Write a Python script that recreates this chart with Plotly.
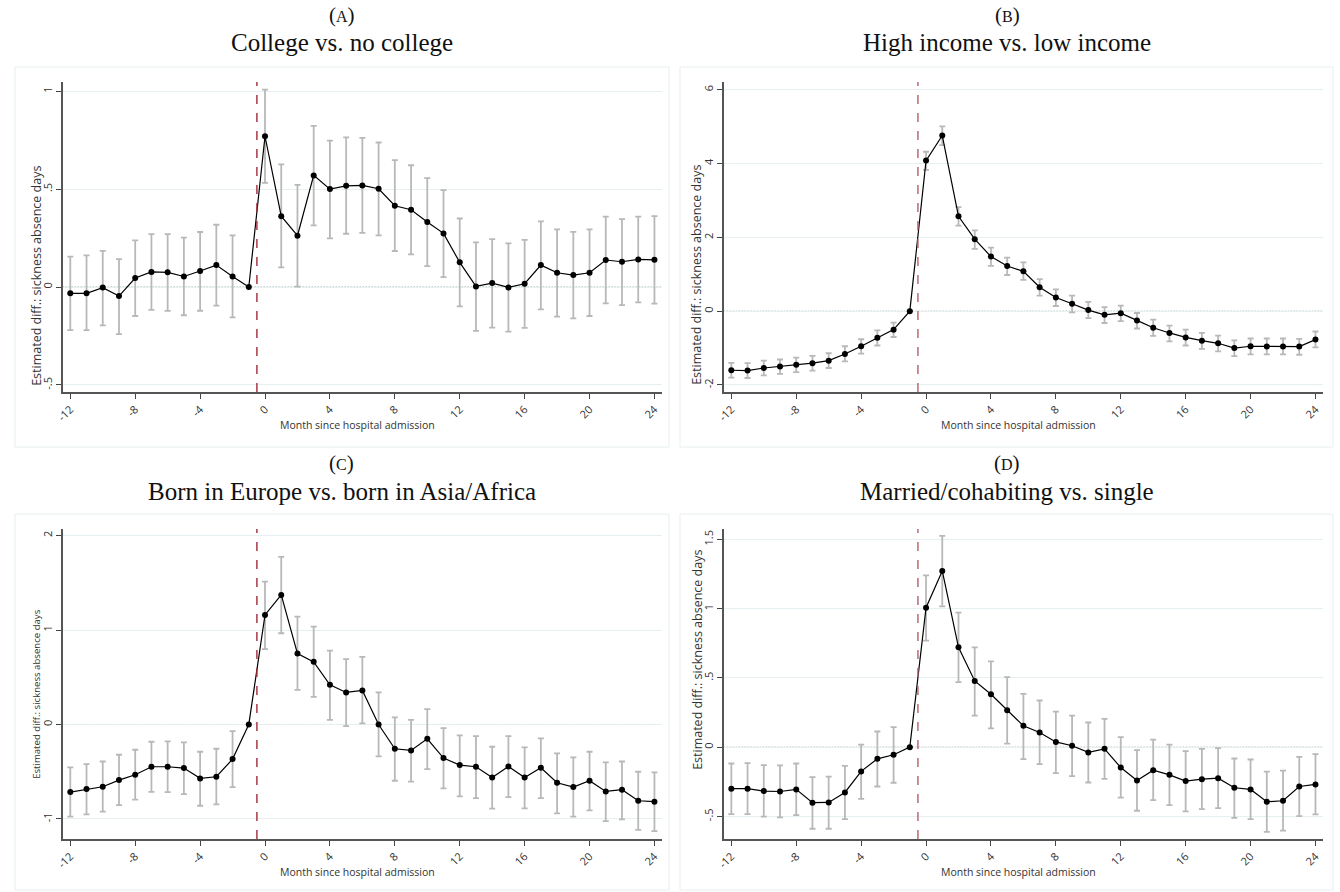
import plotly.graph_objects as go

# Event time (months relative to hospital admission)
months = list(range(-12, 25))

# (A) College vs. no college
college_est = [-0.032, -0.032, -0.003, -0.046, 0.046, 0.077, 0.075, 0.054, 0.082, 0.112, 0.054, 0.0,
               0.770, 0.362, 0.262, 0.570, 0.500, 0.517, 0.519, 0.502, 0.415, 0.395, 0.332, 0.274,
               0.126, 0.003, 0.020, -0.002, 0.017, 0.112, 0.073, 0.061, 0.073, 0.138, 0.129, 0.141, 0.139]
college_lo = [-0.220, -0.220, -0.196, -0.240, -0.148, -0.117, -0.122, -0.144, -0.121, -0.095, -0.155, None,
              0.532, 0.100, 0.002, 0.315, 0.248, 0.272, 0.277, 0.264, 0.184, 0.167, 0.107, 0.051,
              -0.099, -0.224, -0.207, -0.228, -0.209, -0.114, -0.151, -0.160, -0.148, -0.083, -0.092, -0.078, -0.085]
college_hi = [0.155, 0.162, 0.185, 0.143, 0.238, 0.270, 0.270, 0.252, 0.281, 0.318, 0.264, None,
              1.008, 0.626, 0.522, 0.823, 0.748, 0.764, 0.762, 0.738, 0.648, 0.622, 0.556, 0.495,
              0.350, 0.228, 0.245, 0.223, 0.241, 0.335, 0.294, 0.282, 0.294, 0.360, 0.347, 0.360, 0.362]

# (B) High income vs. low income
income_est = [-1.60, -1.61, -1.54, -1.50, -1.45, -1.41, -1.34, -1.16, -0.95, -0.72, -0.50, 0.0,
              4.08, 4.76, 2.57, 1.95, 1.48, 1.225, 1.08, 0.65, 0.37, 0.20, 0.03, -0.10,
              -0.054, -0.25, -0.45, -0.59, -0.71, -0.80, -0.87, -1.00, -0.95, -0.955, -0.955, -0.96, -0.77]
income_lo = [-1.80, -1.81, -1.74, -1.70, -1.65, -1.61, -1.54, -1.36, -1.15, -0.93, -0.70, None,
             3.83, 4.50, 2.32, 1.69, 1.23, 0.98, 0.85, 0.42, 0.14, -0.03, -0.19, -0.32,
             -0.27, -0.47, -0.67, -0.82, -0.93, -1.02, -1.09, -1.22, -1.17, -1.17, -1.17, -1.18, -0.98]
income_hi = [-1.40, -1.41, -1.34, -1.31, -1.26, -1.21, -1.14, -0.95, -0.76, -0.52, -0.31, None,
             4.32, 5.01, 2.82, 2.19, 1.72, 1.45, 1.32, 0.87, 0.59, 0.42, 0.25, 0.11,
             0.15, -0.05, -0.23, -0.39, -0.50, -0.59, -0.66, -0.79, -0.74, -0.74, -0.74, -0.75, -0.55]

# (C) Born in Europe vs. born in Asia/Africa
born_est = [-0.716, -0.684, -0.660, -0.589, -0.533, -0.448, -0.448, -0.462, -0.571, -0.554, -0.367, 0.0,
            1.160, 1.372, 0.751, 0.663, 0.420, 0.339, 0.360, 0.000, -0.257, -0.275, -0.152, -0.356,
            -0.430, -0.448, -0.561, -0.444, -0.561, -0.459, -0.617, -0.663, -0.596, -0.709, -0.691, -0.808, -0.818]
born_lo = [-0.977, -0.952, -0.924, -0.854, -0.797, -0.713, -0.716, -0.737, -0.861, -0.847, -0.663, None,
           0.797, 0.966, 0.367, 0.293, 0.049, -0.018, 0.011, -0.339, -0.596, -0.605, -0.473, -0.677,
           -0.762, -0.780, -0.892, -0.769, -0.889, -0.780, -0.942, -0.977, -0.910, -1.023, -1.005, -1.116, -1.129]
born_hi = [-0.455, -0.420, -0.392, -0.321, -0.268, -0.183, -0.180, -0.190, -0.289, -0.257, -0.071, None,
           1.513, 1.774, 1.143, 1.037, 0.783, 0.691, 0.716, 0.339, 0.074, 0.049, 0.162, -0.039,
           -0.116, -0.123, -0.236, -0.123, -0.243, -0.148, -0.307, -0.349, -0.289, -0.402, -0.392, -0.501, -0.508]

# (D) Married/cohabiting vs. single
married_est = [-0.300, -0.300, -0.317, -0.320, -0.305, -0.401, -0.399, -0.327, -0.175, -0.084, -0.055, 0.0,
               1.007, 1.272, 0.721, 0.478, 0.382, 0.267, 0.154, 0.106, 0.038, 0.010, -0.038, -0.012,
               -0.147, -0.240, -0.166, -0.200, -0.245, -0.231, -0.224, -0.293, -0.305, -0.394, -0.387, -0.284, -0.269]
married_lo = [-0.483, -0.483, -0.502, -0.507, -0.490, -0.589, -0.589, -0.519, -0.373, -0.284, -0.257, None,
              0.769, 1.017, 0.469, 0.228, 0.135, 0.026, -0.087, -0.123, -0.187, -0.209, -0.255, -0.229,
              -0.365, -0.459, -0.382, -0.418, -0.464, -0.447, -0.440, -0.510, -0.520, -0.611, -0.603, -0.498, -0.485]
married_hi = [-0.118, -0.115, -0.130, -0.132, -0.118, -0.216, -0.212, -0.135, 0.019, 0.113, 0.144, None,
              1.240, 1.526, 0.971, 0.721, 0.620, 0.505, 0.385, 0.337, 0.257, 0.228, 0.178, 0.204,
              0.072, -0.022, 0.055, 0.019, -0.029, -0.012, -0.007, -0.082, -0.089, -0.177, -0.170, -0.070, -0.050]

x_ticks = list(range(-12, 25, 4))

panels = [
    dict(label="A", title="College vs. no college", est=college_est, lo=college_lo, hi=college_hi,
         yticks=[-0.5, 0, 0.5, 1], yticktext=["-.5", "0", ".5", "1"], yrange=[-0.536, 1.047],
         vline="#a52a3a", ytitle_size=12.5),
    dict(label="B", title="High income vs. low income", est=income_est, lo=income_lo, hi=income_hi,
         yticks=[-2, 0, 2, 4, 6], yticktext=["-2", "0", "2", "4", "6"], yrange=[-2.19, 6.21],
         vline="#b3606a", ytitle_size=12.5),
    dict(label="C", title="Born in Europe vs. born in Asia/Africa", est=born_est, lo=born_lo, hi=born_hi,
         yticks=[-1, 0, 1, 2], yticktext=["-1", "0", "1", "2"], yrange=[-1.213, 2.07],
         vline="#a52a3a", ytitle_size=9.6),
    dict(label="D", title="Married/cohabiting vs. single", est=married_est, lo=married_lo, hi=married_hi,
         yticks=[-0.5, 0, 0.5, 1, 1.5], yticktext=["-.5", "0", ".5", "1", "1.5"], yrange=[-0.663, 1.575],
         vline="#b3606a", ytitle_size=12.5),
]

W, H = 1340, 892
# pixel layout of each panel: box, plot area and label anchors
geom = [
    dict(box=(7, 67, 665, 447), plot=(55, 82, 658, 392), cx=336, ty=(15, 42), xt=(352, 425), yt=(28, 276)),
    dict(box=(676, 67, 1333, 447), plot=(720, 82, 1323, 392), cx=1005, ty=(15, 42), xt=(1017, 425), yt=(693, 275)),
    dict(box=(7, 514, 665, 890), plot=(55, 529, 658, 839), cx=336, ty=(463, 491), xt=(352, 872), yt=(28, 694)),
    dict(box=(676, 514, 1333, 890), plot=(720, 529, 1323, 839), cx=1005, ty=(463, 491), xt=(1017, 872), yt=(693, 660)),
]

def px(x):
    return x / W

def py(y):
    return 1 - y / H

fig = go.Figure()
layout = dict(width=W, height=H, margin=dict(l=0, r=0, t=0, b=0), paper_bgcolor="white",
              plot_bgcolor="white", showlegend=False, shapes=[], annotations=[])

axis_font = dict(family="Open Sans", size=11, color="#333333")

for i, (p, g) in enumerate(zip(panels, geom), start=1):
    xa = "x" if i == 1 else f"x{i}"
    ya = "y" if i == 1 else f"y{i}"
    err_plus = [None if h is None else h - e for e, h in zip(p["est"], p["hi"])]
    err_minus = [None if l is None else e - l for e, l in zip(p["est"], p["lo"])]
    fig.add_trace(go.Scatter(
        x=months, y=p["est"], mode="lines+markers", xaxis=xa, yaxis=ya,
        line=dict(color="black", width=1.2),
        marker=dict(color="black", size=6),
        error_y=dict(type="data", array=err_plus, arrayminus=err_minus, symmetric=False,
                     color="#b8b8b8", thickness=1.8, width=3),
    ))
    x0, y0, x1, y1 = g["plot"]
    layout[f"xaxis{'' if i == 1 else i}"] = dict(
        domain=[px(x0), px(x1)], anchor=ya, range=[-12.47, 24.47],
        tickmode="array", tickvals=x_ticks, ticktext=[str(t) for t in x_ticks], tickangle=-45,
        ticks="outside", ticklen=5, tickwidth=1.2, tickcolor="#444", tickfont=axis_font,
        showline=True, linecolor="#555", linewidth=1.5, showgrid=False, zeroline=False,
    )
    layout[f"yaxis{'' if i == 1 else i}"] = dict(
        domain=[py(y1), py(y0)], anchor=xa, range=p["yrange"],
        tickmode="array", tickvals=p["yticks"], ticktext=p["yticktext"], tickangle=-90,
        ticks="outside", ticklen=5, tickwidth=1.2, tickcolor="#444", tickfont=axis_font,
        showline=True, linecolor="#555", linewidth=1.5, showgrid=True, gridcolor="#e6eff1",
        gridwidth=1, zeroline=False,
    )
    bx0, by0, bx1, by1 = g["box"]
    layout["shapes"].append(dict(type="rect", xref="paper", yref="paper", x0=px(bx0), x1=px(bx1),
                                 y0=py(by1), y1=py(by0), line=dict(color="#e6eef0", width=1),
                                 fillcolor="rgba(0,0,0,0)", layer="below"))
    # zero reference line
    layout["shapes"].append(dict(type="line", xref=f"{xa} domain", yref=ya, x0=0, x1=1, y0=0, y1=0,
                                 line=dict(color="#707070", width=1, dash="1px,2px"), layer="below"))
    # admission marker between month -1 and 0
    layout["shapes"].append(dict(type="line", xref=xa, yref=f"{ya} domain", x0=-0.5, x1=-0.5, y0=0, y1=1,
                                 line=dict(color=p["vline"], width=1.4, dash="dash")))
    layout["annotations"] += [
        dict(text=f"(<span style='font-size:16px'>{p['label']}</span>)", x=px(g["cx"]), y=py(g["ty"][0]),
             xref="paper", yref="paper", showarrow=False, xanchor="center", yanchor="middle",
             font=dict(family="Liberation Serif", size=21, color="#111")),
        dict(text=p["title"], x=px(g["cx"]), y=py(g["ty"][1]), xref="paper", yref="paper",
             showarrow=False, xanchor="center", yanchor="middle",
             font=dict(family="Liberation Serif", size=25, color="#111")),
        dict(text="Month since hospital admission", x=px(g["xt"][0]), y=py(g["xt"][1]),
             xref="paper", yref="paper", showarrow=False, xanchor="center", yanchor="middle",
             font=dict(family="Open Sans", size=10.5, color="#333")),
        dict(text="Estimated diff.: sickness absence days", x=px(g["yt"][0]), y=py(g["yt"][1]),
             xref="paper", yref="paper", showarrow=False, xanchor="center", yanchor="middle",
             textangle=-90, font=dict(family="Open Sans", size=p["ytitle_size"], color="#333")),
    ]

fig.update_layout(**layout)
fig.write_html("out.html")
